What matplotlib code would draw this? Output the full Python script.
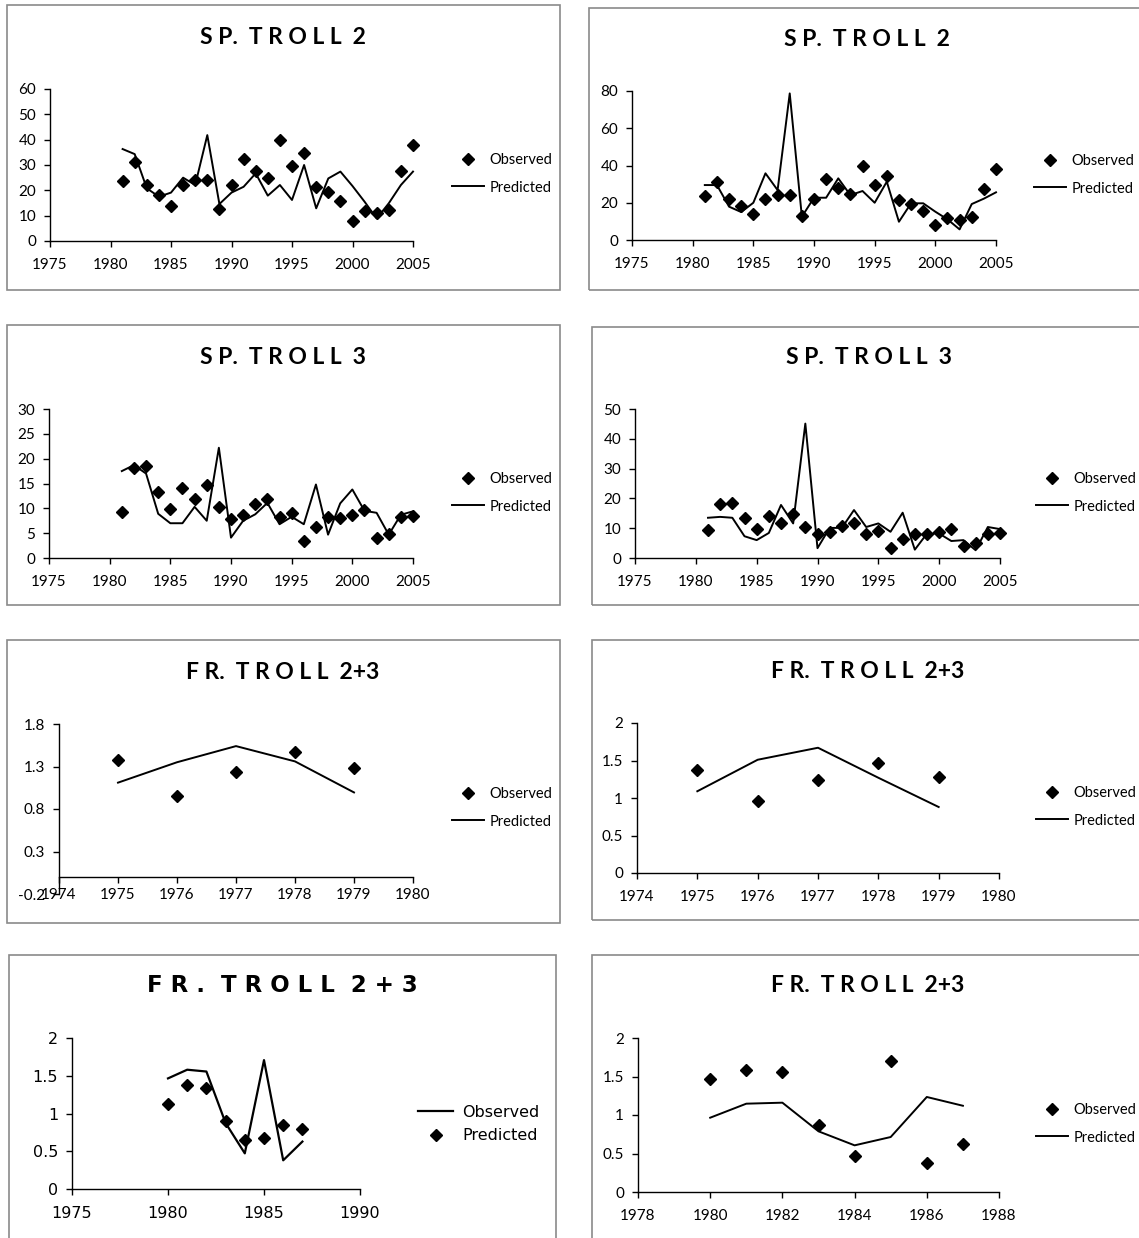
import numpy as np
import matplotlib.pyplot as plt
from matplotlib.patches import Rectangle

W, H = 1139, 1238

# --- data ---
sp_years = np.arange(1981, 2006)
sp2_obs = [23.5, 31.1, 22.2, 18.2, 13.8, 22.1, 24.1, 24.1, 12.7, 22.2, 32.5, 27.7, 24.8,
           40.0, 29.7, 34.6, 21.3, 19.5, 15.8, 7.8, 11.7, 11.0, 12.2, 27.6, 38.0]
sp2_pred_a = [36.3, 34.3, 20.8, 17.5, 19.1, 25.0, 22.1, 41.8, 14.6, 19.1, 21.4, 26.7, 17.9,
              22.1, 16.2, 30.0, 12.9, 24.7, 27.4, 21.7, 15.5, 8.9, 14.9, 22.1, 27.4]
sp2_pred_b = [29.5, 29.5, 17.9, 15.0, 20.0, 35.8, 26.8, 78.7, 12.5, 22.7, 22.7, 33.1, 24.1,
              26.3, 20.0, 31.3, 9.8, 19.7, 19.7, 15.2, 11.1, 5.7, 19.3, 22.2, 25.6]

sp3_obs = [9.3, 18.2, 18.6, 13.3, 9.8, 14.0, 11.9, 14.7, 10.3, 7.9, 8.7, 10.9, 11.9,
           8.2, 9.0, 3.5, 6.3, 8.2, 8.0, 8.7, 9.7, 4.0, 4.9, 8.2, 8.4]
sp3_pred_a = [17.5, 18.7, 17.0, 8.9, 7.0, 7.0, 10.3, 7.5, 22.2, 4.1, 7.5, 8.8, 11.1,
              6.8, 8.3, 6.8, 14.8, 4.7, 11.0, 13.8, 9.5, 9.1, 4.7, 8.7, 9.4]
sp3_pred_b = [13.5, 13.8, 13.5, 7.3, 6.0, 8.4, 17.8, 11.6, 45.1, 3.3, 10.1, 10.1, 16.1,
              10.4, 11.6, 8.8, 15.2, 2.8, 8.2, 8.2, 5.7, 6.0, 2.6, 10.4, 9.7]

fr_years1 = np.arange(1975, 1980)
fr1_obs = [1.375, 0.958, 1.24, 1.47, 1.285]
fr1_pred_a = [1.11, 1.35, 1.54, 1.36, 0.995]
fr1_pred_b = [1.09, 1.51, 1.67, 1.27, 0.88]

fr_years2 = np.arange(1980, 1988)
fr2_obs = [1.465, 1.58, 1.556, 0.874, 0.472, 1.707, 0.38, 0.628]
fr2_pred_a = [1.126, 1.373, 1.333, 0.905, 0.653, 0.675, 0.852, 0.799]
fr2_pred_b = [0.965, 1.147, 1.160, 0.788, 0.606, 0.714, 1.234, 1.12]

fig = plt.figure(figsize=(W / 100, H / 100), dpi=100)


def fx(x):
    return x / W


def fy(y):
    return 1 - y / H


def frame(x0, y0, x1, y1):
    fig.patches.append(Rectangle((fx(x0), fy(y1)), fx(x1 - x0), (y1 - y0) / H,
                                 transform=fig.transFigure, fill=False,
                                 ec='#8a8a8a', lw=1.2))


def panel(box, title, tpos, tsize, axbox, xlim, xticks, ylim, yticks, ylabels,
          years, obs, pred, legpos, font='Lato', fs=11, swap=False, cross0=False):
    frame(*box)
    fig.text(fx(tpos[0]), fy(tpos[1]), title, ha='center', va='center',
             fontsize=tsize, fontweight='bold', family=font)
    l, t, r, b = axbox
    ax = fig.add_axes([fx(l), fy(b), fx(r - l), (b - t) / H])
    if swap:
        ln, = ax.plot(years, obs, color='black', lw=1.6, clip_on=False)
        mk, = ax.plot(years, pred, 'D', color='black', ms=6, clip_on=False)
        handles, labels = [ln, mk], ['Observed', 'Predicted']
    else:
        mk, = ax.plot(years, obs, 'D', color='black', ms=5.8, clip_on=False)
        ln, = ax.plot(years, pred, color='black', lw=1.4, clip_on=False)
        handles, labels = [mk, ln], ['Observed', 'Predicted']
    ax.set_xlim(*xlim)
    ax.set_ylim(*ylim)
    ax.set_xticks(xticks)
    ax.set_yticks(yticks)
    ax.set_yticklabels(ylabels)
    for s in ['top', 'right']:
        ax.spines[s].set_visible(False)
    for s in ['left', 'bottom']:
        ax.spines[s].set_linewidth(1)
    if cross0:
        ax.spines['bottom'].set_position(('data', 0))
        ax.tick_params(axis='x', pad=4)
    else:
        ax.tick_params(axis='x', pad=8)
    ax.tick_params(axis='y', pad=6)
    ax.tick_params(direction='out', length=4, width=1, colors='black', labelsize=fs)
    for lab in ax.get_xticklabels() + ax.get_yticklabels():
        lab.set_family(font)
    ax.patch.set_alpha(0)
    ax.legend(handles, labels, loc='center left',
              bbox_to_anchor=(fx(legpos[0]), fy(legpos[1])),
              bbox_transform=fig.transFigure, frameon=False,
              borderpad=0, borderaxespad=0,
              handlelength=2.2 if not swap else 2.2,
              handletextpad=0.35 if not swap else 0.55,
              labelspacing=0.9 if not swap else 0.55,
              prop={'family': font, 'size': fs if swap else 10.5})
    return ax


sp_x = dict(xlim=(1975, 2005), xticks=range(1975, 2006, 5))

# row 1
panel((7, 5, 560, 290), 'S P.  T R O L L  2', (283, 37), 16.5,
      (50, 89, 413, 241), ylim=(0, 60), yticks=range(0, 61, 10),
      ylabels=[str(v) for v in range(0, 61, 10)],
      years=sp_years, obs=sp2_obs, pred=sp2_pred_a, legpos=(452, 174), **sp_x)
panel((589, 8, 1160, 290), 'S P.  T R O L L  2', (867, 40), 16.5,
      (632, 91, 996, 240), ylim=(0, 80), yticks=range(0, 81, 20),
      ylabels=[str(v) for v in range(0, 81, 20)],
      years=sp_years, obs=sp2_obs, pred=sp2_pred_b, legpos=(1034, 175), **sp_x)

# row 2
panel((7, 325, 560, 605), 'S P.  T R O L L  3', (283, 357), 16.5,
      (49, 409, 413, 558), ylim=(0, 30), yticks=range(0, 31, 5),
      ylabels=[str(v) for v in range(0, 31, 5)],
      years=sp_years, obs=sp3_obs, pred=sp3_pred_a, legpos=(452, 493), **sp_x)
panel((592, 327, 1160, 605), 'S P.  T R O L L  3', (869, 357), 16.5,
      (635, 409, 1000, 558), ylim=(0, 50), yticks=range(0, 51, 10),
      ylabels=[str(v) for v in range(0, 51, 10)],
      years=sp_years, obs=sp3_obs, pred=sp3_pred_b, legpos=(1036, 493), **sp_x)

# row 3
panel((7, 640, 560, 923), 'F R.  T R O L L  2+3', (283, 673), 16.5,
      (59, 724, 413, 894), xlim=(1974, 1980), xticks=range(1974, 1981),
      ylim=(-0.2, 1.8), yticks=[-0.2, 0.3, 0.8, 1.3, 1.8],
      ylabels=['-0.2', '0.3', '0.8', '1.3', '1.8'],
      years=fr_years1, obs=fr1_obs, pred=fr1_pred_a, legpos=(452, 808), cross0=True)
panel((592, 640, 1160, 920), 'F R.  T R O L L  2+3', (868, 672), 16.5,
      (637, 723, 999, 873), xlim=(1974, 1980), xticks=range(1974, 1981),
      ylim=(0, 2), yticks=[0, 0.5, 1, 1.5, 2], ylabels=['0', '0.5', '1', '1.5', '2'],
      years=fr_years1, obs=fr1_obs, pred=fr1_pred_b, legpos=(1036, 807))

# row 4
panel((9, 955, 556, 1260), 'F R .  T R O L L  2 + 3', (282, 985), 16.5,
      (72, 1038, 360, 1189), xlim=(1975, 1990), xticks=range(1975, 1991, 5),
      ylim=(0, 2), yticks=[0, 0.5, 1, 1.5, 2], ylabels=['0', '0.5', '1', '1.5', '2'],
      years=fr_years2, obs=fr2_obs, pred=fr2_pred_a, legpos=(418, 1124),
      font='DejaVu Sans', fs=11.5, swap=True)
panel((592, 955, 1160, 1260), 'F R.  T R O L L  2+3', (868, 985), 16.5,
      (638, 1038, 999, 1192), xlim=(1978, 1988), xticks=range(1978, 1989, 2),
      ylim=(0, 2), yticks=[0, 0.5, 1, 1.5, 2], ylabels=['0', '0.5', '1', '1.5', '2'],
      years=fr_years2, obs=fr2_obs, pred=fr2_pred_b, legpos=(1036, 1124))

fig.savefig('out.png', dpi=100)
